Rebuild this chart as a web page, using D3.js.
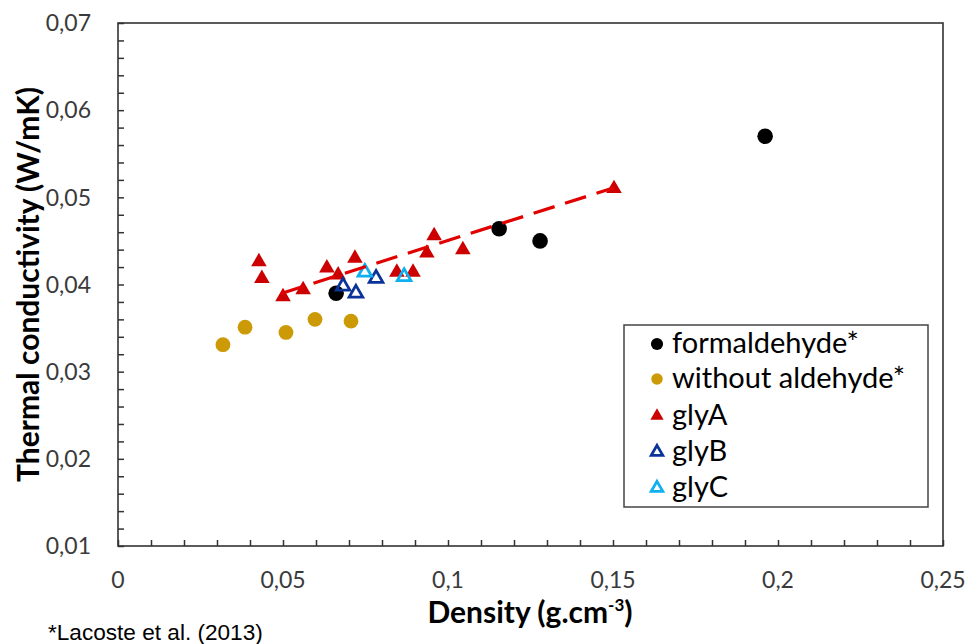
<!DOCTYPE html>
<html>
<head>
<meta charset="utf-8">
<script src="https://cdn.jsdelivr.net/npm/d3@7"></script>
<style>
  html, body { margin: 0; padding: 0; background: #fff; }
  svg { display: block; }
</style>
</head>
<body>
<svg id="chart" width="969" height="644"></svg>
<script>
// ---------------- DATA ----------------
const seriesNames = ["formaldehyde*", "without aldehyde*", "glyA", "glyB", "glyC"];

const formaldehydeX = [0.0661, 0.1155, 0.1279, 0.1961];
const formaldehydeY = [0.0390, 0.0464, 0.0450, 0.0570];

const withoutAldehydeX = [0.0318, 0.0385, 0.0509, 0.0597, 0.0706];
const withoutAldehydeY = [0.0331, 0.0351, 0.0345, 0.0360, 0.0358];

const glyAX = [0.0427, 0.0436, 0.0500, 0.0561, 0.0633, 0.0667, 0.0718, 0.0845, 0.0894, 0.0936, 0.0958, 0.1045, 0.1503];
const glyAY = [0.0426, 0.0407, 0.0386, 0.0394, 0.0419, 0.0411, 0.0430, 0.0414, 0.0414, 0.0436, 0.0456, 0.0440, 0.0510];

const glyBX = [0.0682, 0.0721, 0.0782];
const glyBY = [0.0398, 0.0390, 0.0407];

const glyCX = [0.0748, 0.0867];
const glyCY = [0.0414, 0.0409];

// glyA linear trend line end points
const trendX = [0.0497, 0.1503];
const trendY = [0.0390, 0.0511];

const xTickValues = [0, 0.05, 0.1, 0.15, 0.2, 0.25];
const xTickLabels = ["0", "0,05", "0,1", "0,15", "0,2", "0,25"];
const yTickValues = [0.01, 0.02, 0.03, 0.04, 0.05, 0.06, 0.07];
const yTickLabels = ["0,01", "0,02", "0,03", "0,04", "0,05", "0,06", "0,07"];

const xTitle = "Density (g.cm";
const xTitleSup = "-3";
const yTitle = "Thermal conductivity (W/mK)";
const footnote = "*Lacoste et al. (2013)";

// ---------------- LAYOUT ----------------
const svg = d3.select("#chart");
const L = 118, R = 943, T = 23, B = 546;
const x = d3.scaleLinear().domain([0, 0.25]).range([L, R]);
const y = d3.scaleLinear().domain([0.01, 0.07]).range([B, T]);

const calibri = "Lato, 'Open Sans', sans-serif";
const axisColor = "#333";
const labelColor = "#3a3a3a";

// frame
svg.append("rect")
  .attr("x", L).attr("y", T).attr("width", R - L).attr("height", B - T)
  .attr("fill", "none").attr("stroke", axisColor).attr("stroke-width", 1.6);

// minor/major ticks (inside)
const xAxisG = svg.append("g").attr("transform", `translate(0,${B})`)
  .call(d3.axisBottom(x).tickValues(d3.range(0, 26).map(i => i / 100)).tickSize(-6).tickFormat(""));
const yAxisG = svg.append("g").attr("transform", `translate(${L},0)`)
  .call(d3.axisLeft(y).tickValues(d3.range(0, 31).map(i => 0.01 + i * 0.002)).tickSize(-6).tickFormat(""));
[xAxisG, yAxisG].forEach(g => {
  g.select(".domain").remove();
  g.selectAll("line").attr("stroke", axisColor).attr("stroke-width", 1.5);
});

// tick labels
const tickFont = 23;
svg.append("g").selectAll("text").data(xTickValues).join("text")
  .attr("x", d => x(d)).attr("y", 588)
  .attr("text-anchor", "middle")
  .attr("font-family", calibri).attr("font-size", tickFont).attr("fill", labelColor)
  .text((d, i) => xTickLabels[i]);
svg.append("g").selectAll("text").data(yTickValues).join("text")
  .attr("x", 91).attr("y", d => y(d))
  .attr("dy", "0.36em")
  .attr("text-anchor", "end")
  .attr("font-family", calibri).attr("font-size", tickFont).attr("fill", labelColor)
  .text((d, i) => yTickLabels[i]);

// axis titles
const titleFont = 30;
const xt = svg.append("text")
  .attr("x", 530).attr("y", 623).attr("text-anchor", "middle")
  .attr("font-family", calibri).attr("font-weight", "bold").attr("font-size", titleFont).attr("fill", "#000");
xt.append("tspan").text(xTitle);
xt.append("tspan").attr("font-size", 17).attr("dy", -12).text(xTitleSup);
xt.append("tspan").attr("dy", 12).text(")");

svg.append("text")
  .attr("transform", `translate(39,${(T + B) / 2}) rotate(-90)`)
  .attr("text-anchor", "middle")
  .attr("font-family", calibri).attr("font-weight", "bold").attr("font-size", titleFont).attr("fill", "#000")
  .text(yTitle);

// footnote
svg.append("text")
  .attr("x", 48).attr("y", 640)
  .attr("font-family", "'Liberation Sans', Arial, sans-serif").attr("font-size", 22.6).attr("fill", "#000")
  .text(footnote);

// ---------------- MARKS ----------------
const zip = (xs, ys) => xs.map((v, i) => [v, ys[i]]);
const styles = [
  { data: zip(formaldehydeX, formaldehydeY), type: "circle", r: 7.8, fill: "#000", stroke: "none" },
  { data: zip(withoutAldehydeX, withoutAldehydeY), type: "circle", r: 7.4, fill: "#CC9A06", stroke: "none" },
  { data: zip(glyAX, glyAY), type: "tri", size: 105, fill: "#CC0000", stroke: "none" },
  { data: zip(glyBX, glyBY), type: "tri", size: 80, fill: "none", stroke: "#0A3399" },
  { data: zip(glyCX, glyCY), type: "tri", size: 80, fill: "none", stroke: "#0FB0F0" }
];

function drawMarker(g, s, scale) {
  if (s.type === "circle") {
    g.append("circle").attr("r", s.r * scale).attr("fill", s.fill);
  } else {
    g.append("path").attr("d", d3.symbol(d3.symbolTriangle, s.size * scale * scale)())
      .attr("fill", s.fill).attr("stroke", s.stroke).attr("stroke-width", s.stroke === "none" ? 0 : 2.8)
      .attr("stroke-linejoin", "miter");
  }
}

styles.forEach(s => {
  const g = svg.append("g");
  s.data.forEach(d => {
    const m = g.append("g").attr("transform", `translate(${x(d[0])},${y(d[1])})`);
    drawMarker(m, s, 1);
  });
});

// trend line
svg.append("path")
  .datum(zip(trendX, trendY))
  .attr("d", d3.line().x(d => x(d[0])).y(d => y(d[1])))
  .attr("fill", "none").attr("stroke", "#E00000").attr("stroke-width", 3.2)
  .attr("stroke-dasharray", "22,11");

// ---------------- LEGEND ----------------
const leg = svg.append("g");
leg.append("rect").attr("x", 624).attr("y", 325).attr("width", 304).attr("height", 182)
  .attr("fill", "#fff").attr("stroke", "#444").attr("stroke-width", 1.5);
const legBase = [353, 388, 425, 461, 497];
seriesNames.forEach((name, i) => {
  const m = leg.append("g").attr("transform", `translate(657,${legBase[i] - 9})`);
  drawMarker(m, styles[i], i < 2 ? 0.78 : 0.85);
  leg.append("text").attr("x", 672).attr("y", legBase[i])
    .attr("font-family", calibri).attr("font-size", 29).attr("fill", "#000")
    .text(name);
});
</script>
</body>
</html>
